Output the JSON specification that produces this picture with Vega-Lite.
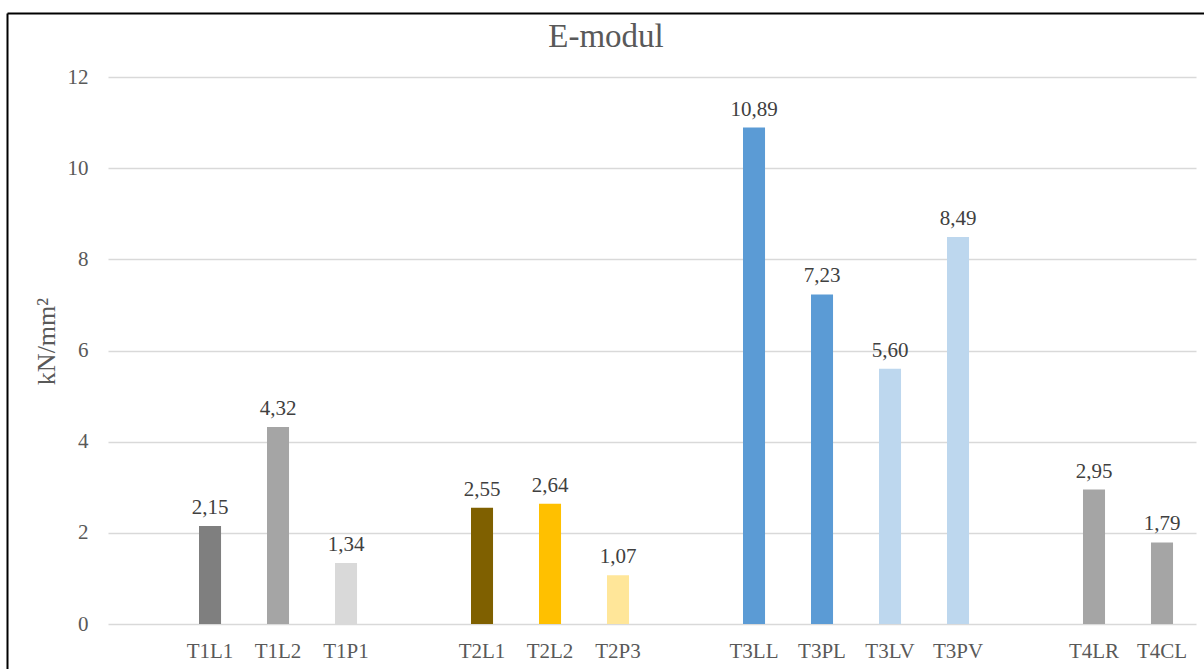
{
  "$schema": "https://vega.github.io/schema/vega-lite/v6.json",
  "autosize": {"type": "none"},
  "width": 1197,
  "height": 656,
  "padding": {"left": 7, "top": 13, "right": 0, "bottom": 0},
  "background": "#ffffff",
  "config": {
    "locale": {"number": {"decimal": ",", "thousands": ".", "grouping": [3], "currency": ["", " €"]}},
    "font": "Liberation Serif",
    "view": {"stroke": null}
  },
  "data": {
    "values": [
      {"probe": "T1L1", "emodul": 2.15},
      {"probe": "T1L2", "emodul": 4.32},
      {"probe": "T1P1", "emodul": 1.34},
      {"probe": "T2L1", "emodul": 2.55},
      {"probe": "T2L2", "emodul": 2.64},
      {"probe": "T2P3", "emodul": 1.07},
      {"probe": "T3LL", "emodul": 10.89},
      {"probe": "T3PL", "emodul": 7.23},
      {"probe": "T3LV", "emodul": 5.60},
      {"probe": "T3PV", "emodul": 8.49},
      {"probe": "T4LR", "emodul": 2.95},
      {"probe": "T4CL", "emodul": 1.79}
    ]
  },
  "resolve": {"axis": {"x": "independent", "y": "independent"}},
  "layer": [
    {
      "mark": {"type": "bar"},
      "encoding": {
        "x": {
          "field": "probe",
          "type": "nominal",
          "sort": null,
          "scale": {
            "domain": ["gap0", "gap1", "T1L1", "T1L2", "T1P1", "gap2", "T2L1", "T2L2", "T2P3", "gap3", "T3LL", "T3PL", "T3LV", "T3PV", "gap4", "T4LR", "T4CL"],
            "paddingInner": 0.676,
            "paddingOuter": 0.6396,
            "align": 0.6439
          },
          "axis": {
            "title": null,
            "orient": "bottom",
            "offset": -45,
            "domain": false,
            "ticks": false,
            "grid": false,
            "labelAngle": 0,
            "labelPadding": 16,
            "labelFont": "Liberation Serif",
            "labelFontSize": 21,
            "labelColor": "#595959",
            "labelExpr": "indexof(datum.label, 'gap') == 0 ? '' : datum.label"
          }
        },
        "y": {
          "field": "emodul",
          "type": "quantitative",
          "scale": {"domain": [-0.987, 13.404], "nice": false, "zero": false},
          "axis": {
            "title": "kN/mm²",
            "orient": "left",
            "offset": -101,
            "values": [0, 2, 4, 6, 8, 10, 12],
            "domain": false,
            "ticks": false,
            "labelPadding": 20,
            "labelFont": "Liberation Serif",
            "labelFontSize": 21,
            "labelColor": "#595959",
            "titleFont": "Liberation Serif",
            "titleFontSize": 26,
            "titleFontWeight": "normal",
            "titleColor": "#595959",
            "titlePadding": 8,
            "grid": true,
            "gridColor": "#d9d9d9",
            "gridWidth": 1.4,
            "gridDash": [1088, 109],
            "gridDashOffset": 1096
          }
        },
        "color": {
          "field": "probe",
          "type": "nominal",
          "legend": null,
          "scale": {
            "domain": ["T1L1", "T1L2", "T1P1", "T2L1", "T2L2", "T2P3", "T3LL", "T3PL", "T3LV", "T3PV", "T4LR", "T4CL"],
            "range": ["#7f7f7f", "#a5a5a5", "#d9d9d9", "#7f6000", "#ffc000", "#ffe699", "#5b9bd5", "#5b9bd5", "#bdd7ee", "#bdd7ee", "#a5a5a5", "#a5a5a5"]
          }
        }
      }
    },
    {
      "mark": {"type": "text", "baseline": "alphabetic", "dy": -12, "font": "Liberation Serif", "fontSize": 21, "color": "#404040"},
      "encoding": {
        "x": {
          "field": "probe",
          "type": "nominal",
          "sort": null,
          "axis": {
            "orient": "top",
            "offset": 0,
            "domain": true,
            "domainColor": "#000000",
            "domainWidth": 2,
            "ticks": false,
            "labels": false,
            "grid": false,
            "title": "E-modul",
            "titleFont": "Liberation Serif",
            "titleFontSize": 33,
            "titleFontWeight": "normal",
            "titleColor": "#595959",
            "titleBaseline": "alphabetic",
            "titlePadding": -33
          }
        },
        "y": {
          "field": "emodul",
          "type": "quantitative",
          "axis": {
            "orient": "left",
            "offset": 0,
            "domain": true,
            "domainColor": "#000000",
            "domainWidth": 2,
            "ticks": false,
            "labels": false,
            "grid": false,
            "title": null
          }
        },
        "text": {"field": "emodul", "type": "quantitative", "format": ".2f"}
      }
    }
  ]
}
